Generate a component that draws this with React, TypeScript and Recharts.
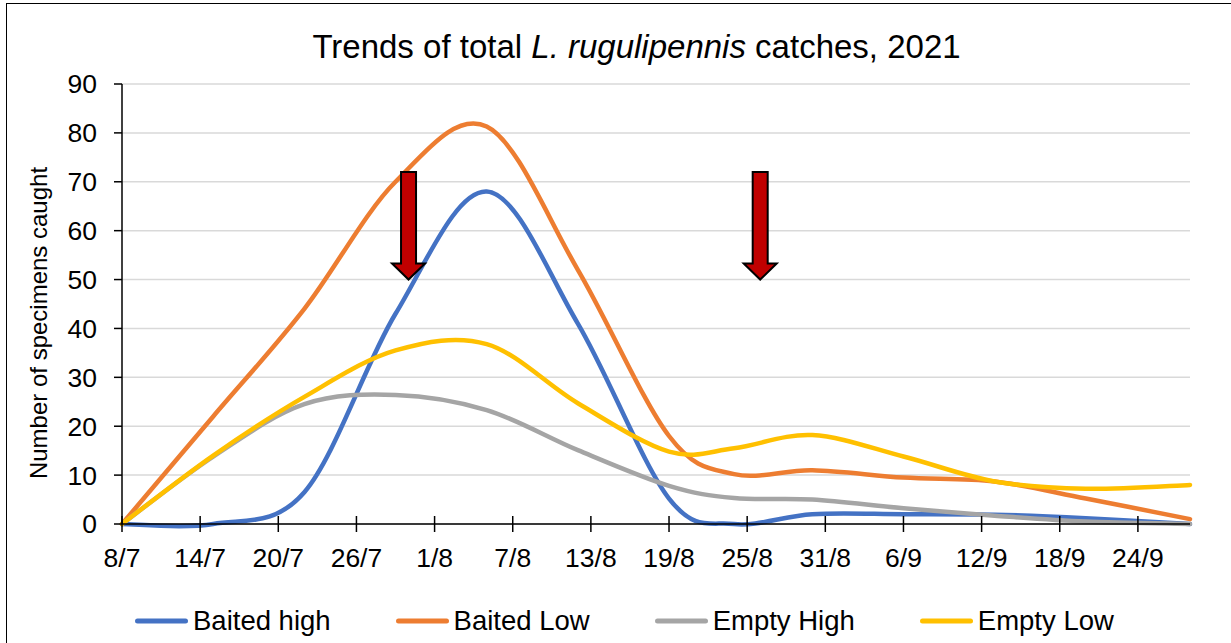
import React from 'react';
import { LineChart, Line, XAxis, YAxis, CartesianGrid, Legend, ReferenceLine } from 'recharts';

// sampling dates (day/month, 2021)
const sampleDates = ['8/7', '15/7', '22/7', '29/7', '5/8', '12/8', '19/8', '24/8', '30/8', '6/9', '13/9', '20/9', '28/9'];

const baitedHigh = [0, 0, 6.5, 43, 68, 41, 5.2, 0, 2, 2, 1.9, 1.2, 0];
const baitedLow = [0, 22, 44, 70, 81.3, 52, 18, 10.2, 11, 9.5, 8.7, 5.2, 1];
const emptyHigh = [0, 13.8, 24.5, 26.4, 23.3, 15.1, 7.8, 5.3, 5, 3.2, 1.7, 0.5, 0];
const emptyLow = [0, 14, 26, 35.5, 36.8, 24.7, 14.8, 15.5, 18.2, 13.8, 8.7, 7.2, 8];

const tickDates = ['8/7', '14/7', '20/7', '26/7', '1/8', '7/8', '13/8', '19/8', '25/8', '31/8', '6/9', '12/9', '18/9', '24/9'];
const axisEnd = '28/9';
const yTicks = [0, 10, 20, 30, 40, 50, 60, 70, 80, 90];

// treatment dates marked with arrows
const arrowDates = ['30/7', '26/8'];
const arrowTop = 72;
const arrowTip = 50;

const series = [
  { key: 'baitedHigh', name: 'Baited high', color: '#4472C4' },
  { key: 'baitedLow', name: 'Baited Low', color: '#ED7D31' },
  { key: 'emptyHigh', name: 'Empty High', color: '#A5A5A5' },
  { key: 'emptyLow', name: 'Empty Low', color: '#FFC000' },
];

const FONT = '"Liberation Sans", Arial, sans-serif';

const dayOf = (s: string) => {
  const [d, m] = s.split('/').map(Number);
  return (Date.UTC(2021, m - 1, d) - Date.UTC(2021, 6, 8)) / 86400000;
};

const labelOfDay: Record<number, string> = {};
tickDates.forEach((t) => (labelOfDay[dayOf(t)] = t));

const data = sampleDates.map((d, i) => ({
  day: dayOf(d),
  baitedHigh: baitedHigh[i],
  baitedLow: baitedLow[i],
  emptyHigh: emptyHigh[i],
  emptyLow: emptyLow[i],
}));

// Excel-like smoothed line (Catmull-Rom through the points)
const excelSmooth = (context: any) => {
  let pts: number[][] = [];
  return {
    areaStart() {},
    areaEnd() {},
    lineStart() {
      pts = [];
    },
    point(x: number, y: number) {
      pts.push([+x, +y]);
    },
    lineEnd() {
      const n = pts.length;
      if (!n) return;
      context.moveTo(pts[0][0], pts[0][1]);
      for (let i = 0; i < n - 1; i++) {
        const p0 = pts[Math.max(i - 1, 0)];
        const p1 = pts[i];
        const p2 = pts[i + 1];
        const p3 = pts[Math.min(i + 2, n - 1)];
        context.bezierCurveTo(
          p1[0] + (p2[0] - p0[0]) / 6,
          p1[1] + (p2[1] - p0[1]) / 6,
          p2[0] - (p3[0] - p1[0]) / 6,
          p2[1] - (p3[1] - p1[1]) / 6,
          p2[0],
          p2[1]
        );
      }
    },
  };
};

const TICK_MARGIN = 16;

const DateTick = (props: any) => {
  const { x, y, payload } = props;
  const axisY = y - TICK_MARGIN - 8;
  return (
    <g>
      <line x1={x} x2={x} y1={axisY - 8} y2={axisY + 8} stroke="#000" strokeWidth={1.5} />
      <text x={x} y={y} dy="0.71em" textAnchor="middle" fill="#000" fontSize={26.5} fontFamily={FONT}>
        {labelOfDay[payload.value]}
      </text>
    </g>
  );
};

const Arrow = (props: any) => {
  const { x1, y1, y2 } = props;
  const top = Math.min(y1, y2);
  const tip = Math.max(y1, y2);
  const x = x1;
  const head = tip - 16;
  const pts = [
    [x - 7.5, top], [x + 7.5, top], [x + 7.5, head], [x + 16.5, head],
    [x, tip], [x - 16.5, head], [x - 7.5, head],
  ].map((p) => p.join(',')).join(' ');
  return <polygon points={pts} fill="#C00000" stroke="#000" strokeWidth={2} strokeLinejoin="miter" />;
};

const YLabel = (props: any) => {
  const vb = props.viewBox;
  const cx = vb.x - 22;
  const cy = vb.y + vb.height / 2 + 19;
  return (
    <text x={cx} y={cy} transform={`rotate(-90 ${cx} ${cy})`} textAnchor="middle" dominantBaseline="central"
      fill="#000" fontSize={24} fontFamily={FONT}>
      Number of specimens caught
    </text>
  );
};

const renderLegend = () => (
  <div style={{ display: 'flex', alignItems: 'center', height: 36, paddingLeft: 135, fontFamily: FONT }}>
    {series.map((s) => (
      <div key={s.key} style={{ display: 'flex', alignItems: 'center', marginRight: 65 }}>
        <svg width={53} height={10}>
          <line x1={2.5} x2={50.5} y1={5} y2={5} stroke={s.color} strokeWidth={5} strokeLinecap="round" />
        </svg>
        <span style={{ marginLeft: 5, fontSize: 27.5, color: '#000', whiteSpace: 'nowrap' }}>{s.name}</span>
      </div>
    ))}
  </div>
);

export default function App() {
  return (
    <div style={{ position: 'fixed', left: 0, top: 0, width: 1231, height: 643, overflow: 'hidden', background: '#fff' }}>
      <div style={{ position: 'absolute', left: 6, top: 3, width: 1300, height: 700, border: '1.5px solid #000' }} />
      <div style={{ position: 'absolute', left: 0, top: 0 }}>
        <LineChart width={1231} height={643} data={data} margin={{ top: 84, right: 41, bottom: 23, left: 60 }}>
          <CartesianGrid vertical={false} stroke="#D9D9D9" strokeWidth={1.5} />
          <XAxis
            dataKey="day"
            type="number"
            domain={[dayOf(sampleDates[0]), dayOf(axisEnd)]}
            ticks={tickDates.map(dayOf)}
            interval={0}
            height={60}
            tickSize={8}
            tickMargin={TICK_MARGIN}
            tickLine={false}
            tick={<DateTick />}
            axisLine={{ stroke: '#000', strokeWidth: 1.5 }}
          />
          <YAxis
            domain={[0, 90]}
            ticks={yTicks}
            width={62}
            tickSize={8}
            tickMargin={17}
            interval={0}
            tick={{ fill: '#000', fontSize: 26.5, fontFamily: FONT }}
            tickLine={{ stroke: '#000', strokeWidth: 1.5 }}
            axisLine={{ stroke: '#000', strokeWidth: 1.5 }}
            label={{ content: <YLabel /> }}
          />
          {series.map((s) => (
            <Line
              key={s.key}
              dataKey={s.key}
              name={s.name}
              type={excelSmooth as any}
              stroke={s.color}
              strokeWidth={4.5}
              strokeLinecap="round"
              dot={false}
              activeDot={false}
              isAnimationActive={false}
            />
          ))}
          {arrowDates.map((d) => (
            <ReferenceLine
              key={d}
              segment={[{ x: dayOf(d), y: arrowTop }, { x: dayOf(d), y: arrowTip }]}
              shape={(p: any) => <Arrow {...p} />}
            />
          ))}
          <Legend
            verticalAlign="bottom"
            content={renderLegend}
            wrapperStyle={{ left: 0, bottom: 4, width: 1231, height: 36 }}
          />
        </LineChart>
      </div>
      <div style={{ position: 'absolute', left: 0, top: 30, width: 1273, textAlign: 'center', fontFamily: FONT, fontSize: 33, lineHeight: '33px', color: '#000' }}>
        Trends of total <i>L. rugulipennis</i> catches, 2021
      </div>
    </div>
  );
}
